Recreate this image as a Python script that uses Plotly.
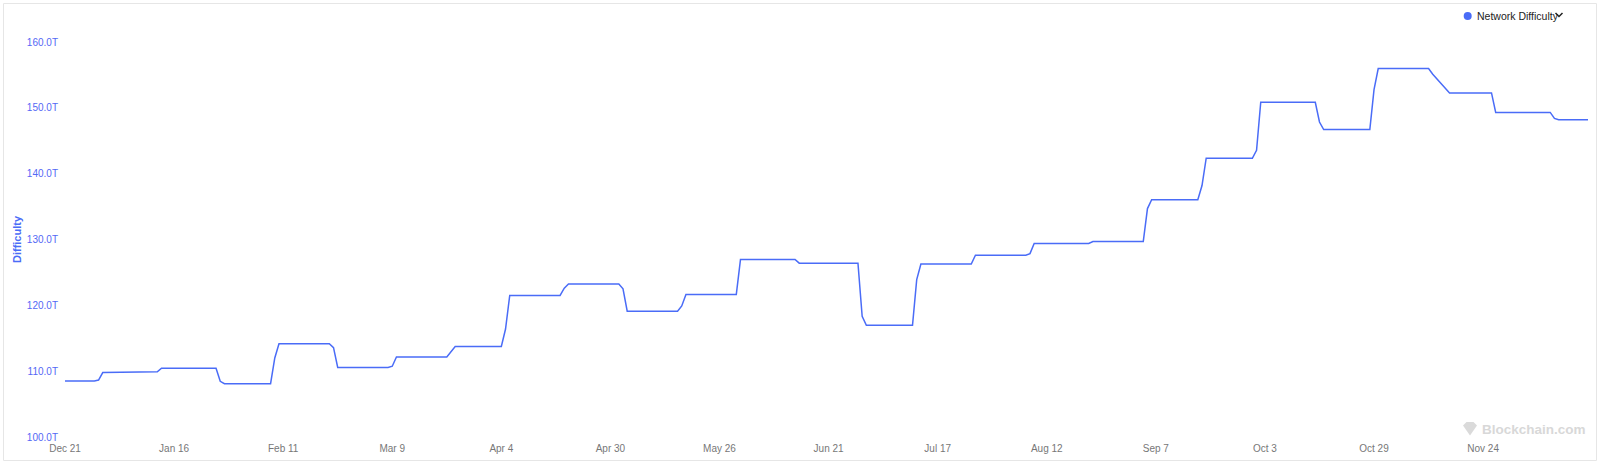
import plotly.graph_objects as go

# ---- data (corner points of the daily series) ----
dates = [
    "2024-12-21", "2024-12-28", "2024-12-29", "2024-12-30",
    "2025-01-12", "2025-01-13", "2025-01-26", "2025-01-27", "2025-01-28",
    "2025-02-08", "2025-02-09", "2025-02-10", "2025-02-22", "2025-02-23", "2025-02-24",
    "2025-03-08", "2025-03-09", "2025-03-10", "2025-03-22", "2025-03-24",
    "2025-04-04", "2025-04-05", "2025-04-06", "2025-04-18", "2025-04-19", "2025-04-20",
    "2025-05-02", "2025-05-03", "2025-05-04", "2025-05-16", "2025-05-17", "2025-05-18",
    "2025-05-30", "2025-05-31", "2025-06-13", "2025-06-14",
    "2025-06-28", "2025-06-29", "2025-06-30", "2025-07-11", "2025-07-12", "2025-07-13",
    "2025-07-25", "2025-07-26", "2025-08-07", "2025-08-08", "2025-08-09",
    "2025-08-22", "2025-08-23", "2025-09-04", "2025-09-05", "2025-09-06",
    "2025-09-17", "2025-09-18", "2025-09-19", "2025-09-30", "2025-10-01", "2025-10-02",
    "2025-10-15", "2025-10-16", "2025-10-17", "2025-10-28", "2025-10-29", "2025-10-30",
    "2025-11-11", "2025-11-12", "2025-11-16", "2025-11-26", "2025-11-27",
    "2025-12-10", "2025-12-11", "2025-12-12", "2025-12-19",
]
difficulty_t = [
    108.5, 108.5, 108.65, 109.78,
    109.9, 110.45, 110.45, 108.46, 108.1,
    108.1, 112.0, 114.17, 114.17, 113.58, 110.57,
    110.57, 110.75, 112.15, 112.15, 113.76,
    113.76, 116.4, 121.51, 121.51, 122.6, 123.23,
    123.23, 122.5, 119.12, 119.12, 119.9, 121.66,
    121.66, 126.98, 126.98, 126.41,
    126.41, 118.33, 116.96, 116.96, 123.9, 126.27,
    126.27, 127.6, 127.6, 127.86, 129.4,
    129.4, 129.7, 129.7, 134.7, 136.04,
    136.04, 138.2, 142.34, 142.34, 143.55, 150.84,
    150.84, 147.85, 146.7, 146.7, 152.77, 155.97,
    155.97, 155.1, 152.27, 152.27, 149.3,
    149.3, 148.4, 148.2, 148.2,
]

x_tick_dates = ["2024-12-21", "2025-01-16", "2025-02-11", "2025-03-09", "2025-04-04",
                "2025-04-30", "2025-05-26", "2025-06-21", "2025-07-17", "2025-08-12",
                "2025-09-07", "2025-10-03", "2025-10-29", "2025-11-24"]
x_tick_labels = ["Dec 21", "Jan 16", "Feb 11", "Mar 9", "Apr 4", "Apr 30", "May 26",
                 "Jun 21", "Jul 17", "Aug 12", "Sep 7", "Oct 3", "Oct 29", "Nov 24"]
y_tick_values = [100, 110, 120, 130, 140, 150, 160]
y_tick_labels = ["100.0T", "110.0T", "120.0T", "130.0T", "140.0T", "150.0T", "160.0T"]

series_name = "Network Difficulty"
y_title = "Difficulty"

# ---- styling / layout ----
W, H = 1600, 464
ML, MR, MT, MB = 65, 12, 42, 27
PW, PH = W - ML - MR, H - MT - MB
LINE = "#4a6cf7"
BLUE_TXT = "#5468f5"
FONT = "Liberation Sans, Arial, Helvetica, sans-serif"


def px(x):
    return (x - ML) / PW


def py(y):
    return (H - MB - y) / PH


fig = go.Figure(
    go.Scatter(
        x=dates, y=difficulty_t, mode="lines", name=series_name,
        line=dict(color=LINE, width=1.5), showlegend=False,
    )
)

fig.update_layout(
    width=W, height=H,
    margin=dict(l=ML, r=MR, t=MT, b=MB),
    paper_bgcolor="white", plot_bgcolor="white",
    font=dict(family=FONT),
)
fig.update_xaxes(
    range=[dates[0], dates[-1]], tickvals=x_tick_dates, ticktext=x_tick_labels,
    showgrid=False, zeroline=False, showline=False, ticks="",
    tickfont=dict(size=10, color="#777777", family=FONT),
    ticklabelstandoff=4, automargin=False,
)
fig.update_yaxes(
    range=[100, 160], tickvals=y_tick_values, ticktext=y_tick_labels,
    showgrid=False, zeroline=False, showline=False, ticks="",
    tickfont=dict(size=10, color=BLUE_TXT, family=FONT),
    ticklabelstandoff=6, automargin=False,
    title=dict(text="<b>" + y_title + "</b>", font=dict(size=11, color=LINE, family=FONT), standoff=3),
)

shapes = [
    # outer border
    dict(type="rect", xref="paper", yref="paper",
         x0=px(3.5), x1=px(1596.5), y0=py(460.5), y1=py(3.5),
         line=dict(color="#e6e6e6", width=1), fillcolor="rgba(0,0,0,0)", layer="below"),
    # legend dot
    dict(type="circle", xref="paper", yref="paper",
         x0=px(1463.7), x1=px(1471.7), y0=py(20), y1=py(12),
         line=dict(width=0), fillcolor=LINE),
    # legend chevron
    dict(type="path", xref="paper", yref="paper",
         path=f"M {px(1555.5)} {py(13)} L {px(1559)} {py(16.5)} L {px(1562.5)} {py(13)}",
         line=dict(color="#222222", width=1.5)),
    # watermark gem
    dict(type="path", xref="paper", yref="paper",
         path=(f"M {px(1463)} {py(425.5)} L {px(1466.5)} {py(422)} L {px(1473.5)} {py(422)} "
               f"L {px(1477)} {py(425.5)} L {px(1470)} {py(435.5)} Z"),
         line=dict(width=0), fillcolor="#dadada"),
]

annotations = [
    dict(text=series_name, xref="paper", yref="paper", x=px(1475), y=py(16),
         xanchor="left", yanchor="middle", showarrow=False,
         font=dict(size=10.5, color="#222222", family=FONT)),
    dict(text="<b>Blockchain.com</b>", xref="paper", yref="paper", x=px(1480), y=py(429.5),
         xanchor="left", yanchor="middle", showarrow=False,
         font=dict(size=13.5, color="#d8d8d8", family=FONT)),
]

fig.update_layout(shapes=shapes, annotations=annotations)

fig.write_html(
    "out.html",
    config={"displayModeBar": False},
    post_script="document.body.style.margin='0';document.body.style.overflow='hidden';",
)
